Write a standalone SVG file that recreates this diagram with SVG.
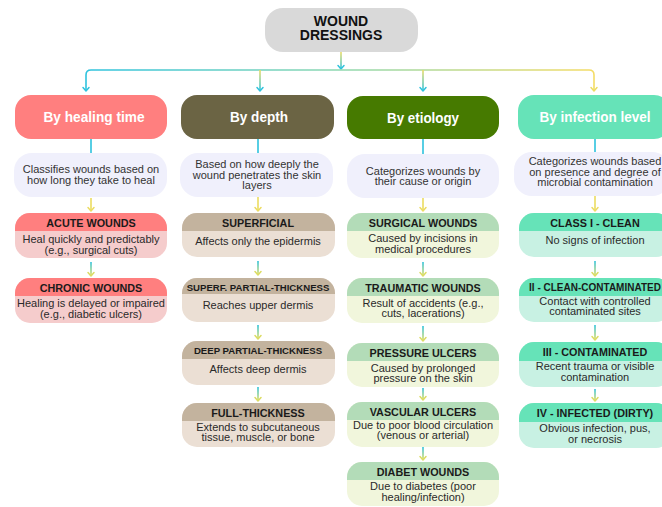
<svg xmlns="http://www.w3.org/2000/svg" width="662" height="507" viewBox="0 0 662 507">
<defs>
<linearGradient id="gcy" x1="0" y1="0" x2="0" y2="1"><stop offset="0" stop-color="#2fc3de"/><stop offset="1" stop-color="#e4de62"/></linearGradient>
<linearGradient id="gyc" x1="0" y1="0" x2="0" y2="1"><stop offset="0" stop-color="#ecdc66"/><stop offset="1" stop-color="#2fc3de"/></linearGradient>
<linearGradient id="gh" gradientUnits="userSpaceOnUse" x1="86" y1="0" x2="594" y2="0"><stop offset="0" stop-color="#2fc3de"/><stop offset="0.5" stop-color="#8fd8b0"/><stop offset="1" stop-color="#f4dc66"/></linearGradient>
<style>
text{font-family:"Liberation Sans",Arial,sans-serif;text-anchor:middle}
.title{font-weight:bold;font-size:14px;fill:#111}
.l2{font-weight:bold;font-size:14.5px;fill:#fff}
.desc{font-size:11px;fill:#333}
.hd{font-weight:bold;font-size:10.8px;fill:#1a1a1a}
.sm{font-size:9.6px}
.md{font-size:10px}
.bd{font-size:11px;fill:#2a2a2a}
.dsc{fill:#f0f0fc}
.ch{fill:none;stroke-width:1.5;stroke-linecap:round;stroke-linejoin:round}
.cy{stroke:#2fc3de}
.ye{stroke:#ecdc62}
.yg{stroke:#dcdc62}
</style>
</defs>

<g id="connectors">
<rect x="340.2" y="52" width="1.6" height="17" fill="url(#gyc)"/>
<polyline class="ch cy" points="338,65.5 341,69 344,65.5"/>
<path d="M86,91 V75 Q86,70 91,70 H589 Q594,70 594,75 V91" fill="none" stroke="url(#gh)" stroke-width="1.6"/>
<rect x="259.2" y="70" width="1.6" height="21" fill="url(#gyc)"/>
<rect x="422.2" y="70" width="1.6" height="21" fill="url(#gyc)"/>
<polyline class="ch cy" points="83,87.5 86,91 89,87.5"/>
<polyline class="ch cy" points="257,87.5 260,91 263,87.5"/>
<polyline class="ch cy" points="420,87.5 423,91 426,87.5"/>
<polyline class="ch ye" points="591,87.5 594,91 597,87.5"/>
<rect x="90.2" y="139" width="1.6" height="15" fill="#2fc3de"/>
<rect x="257.2" y="139" width="1.6" height="15" fill="#2fc3de"/>
<rect x="422.2" y="139" width="1.6" height="15" fill="#2fc3de"/>
<rect x="594.2" y="139" width="1.6" height="14" fill="#2fc3de"/>
<rect x="90.2" y="198" width="1.6" height="13" fill="#ecdc62"/>
<polyline class="ch ye" points="88,207.5 91,211 94,207.5"/>
<rect x="257.2" y="197" width="1.6" height="14" fill="#ecdc62"/>
<polyline class="ch ye" points="255,207.5 258,211 261,207.5"/>
<rect x="422.2" y="198" width="1.6" height="13" fill="#ecdc62"/>
<polyline class="ch ye" points="420,207.5 423,211 426,207.5"/>
<rect x="594.2" y="196" width="1.6" height="15" fill="#ecdc62"/>
<polyline class="ch ye" points="592,207.5 595,211 598,207.5"/>
<rect x="90.2" y="262" width="1.6" height="14" fill="url(#gcy)"/>
<polyline class="ch yg" points="88,272.5 91,276 94,272.5"/>
<rect x="257.2" y="261" width="1.6" height="14" fill="url(#gcy)"/>
<polyline class="ch yg" points="255,271.5 258,275 261,271.5"/>
<rect x="257.2" y="325" width="1.6" height="14" fill="url(#gcy)"/>
<polyline class="ch yg" points="255,335.5 258,339 261,335.5"/>
<rect x="257.2" y="387" width="1.6" height="14" fill="url(#gcy)"/>
<polyline class="ch yg" points="255,397.5 258,401 261,397.5"/>
<rect x="422.2" y="262" width="1.6" height="14" fill="url(#gcy)"/>
<polyline class="ch yg" points="420,272.5 423,276 426,272.5"/>
<rect x="422.2" y="326" width="1.6" height="15" fill="url(#gcy)"/>
<polyline class="ch yg" points="420,337.5 423,341 426,337.5"/>
<rect x="422.2" y="388" width="1.6" height="12" fill="url(#gcy)"/>
<polyline class="ch yg" points="420,396.5 423,400 426,396.5"/>
<rect x="422.2" y="447" width="1.6" height="13" fill="url(#gcy)"/>
<polyline class="ch yg" points="420,456.5 423,460 426,456.5"/>
<rect x="594.2" y="261" width="1.6" height="15" fill="url(#gcy)"/>
<polyline class="ch yg" points="592,272.5 595,276 598,272.5"/>
<rect x="594.2" y="325" width="1.6" height="15" fill="url(#gcy)"/>
<polyline class="ch yg" points="592,336.5 595,340 598,336.5"/>
<rect x="594.2" y="389" width="1.6" height="12" fill="url(#gcy)"/>
<polyline class="ch yg" points="592,397.5 595,401 598,397.5"/>
</g>

<g id="root">
<rect x="265" y="8" width="153" height="44" rx="18" fill="#d9d9d9"/>
<text class="title" x="341" y="25.5">WOUND</text>
<text class="title" x="341" y="40">DRESSINGS</text>
</g>

<g id="by-healing-time">
<rect x="15" y="95" width="152" height="44" rx="16" fill="#ff7f7f"/>
<text class="l2" x="94" y="122" textLength="101" lengthAdjust="spacingAndGlyphs">By healing time</text>
</g>
<g id="by-depth">
<rect x="181" y="95" width="153" height="44" rx="16" fill="#6b6444"/>
<text class="l2" x="259" y="122" textLength="58" lengthAdjust="spacingAndGlyphs">By depth</text>
</g>
<g id="by-etiology">
<rect x="347" y="96" width="152" height="43" rx="16" fill="#467a00"/>
<text class="l2" x="423" y="123" textLength="72" lengthAdjust="spacingAndGlyphs">By etiology</text>
</g>
<g id="by-infection-level">
<rect x="518" y="95" width="152" height="44" rx="16" fill="#66e3b8"/>
<text class="l2" x="595" y="122" textLength="111" lengthAdjust="spacingAndGlyphs">By infection level</text>
</g>

<g id="desc-healing">
<rect class="dsc" x="14" y="153" width="153" height="44" rx="18"/>
<text class="desc" x="91" y="173">Classifies wounds based on</text>
<text class="desc" x="91" y="184">how long they take to heal</text>
</g>
<g id="desc-depth">
<rect class="dsc" x="180" y="153" width="153" height="44" rx="18"/>
<text class="desc" x="257" y="168">Based on how deeply the</text>
<text class="desc" x="257" y="178.5">wound penetrates the skin</text>
<text class="desc" x="257" y="189">layers</text>
</g>
<g id="desc-etiology">
<rect class="dsc" x="347" y="154" width="152" height="44" rx="18"/>
<text class="desc" x="423" y="174.5">Categorizes wounds by</text>
<text class="desc" x="423" y="185">their cause or origin</text>
</g>
<g id="desc-infection">
<rect class="dsc" x="514" y="152" width="156" height="44" rx="18"/>
<text class="desc" x="595" y="165">Categorizes wounds based</text>
<text class="desc" x="595" y="175.5">on presence and degree of</text>
<text class="desc" x="595" y="186">microbial contamination</text>
</g>

<g id="acute-wounds">
<rect x="15" y="213" width="152" height="45" rx="15" fill="#f5cccc"/>
<path d="M15,231 V228 A15,15 0 0 1 30,213 H152 A15,15 0 0 1 167,228 V231 Z" fill="#ff7f7f"/>
<text class="hd" x="91" y="226.5">ACUTE WOUNDS</text>
<text class="bd" x="91" y="243">Heal quickly and predictably</text>
<text class="bd" x="91" y="253.5">(e.g., surgical cuts)</text>
</g>
<g id="chronic-wounds">
<rect x="15" y="278" width="152" height="45" rx="15" fill="#f5cccc"/>
<path d="M15,296 V293 A15,15 0 0 1 30,278 H152 A15,15 0 0 1 167,293 V296 Z" fill="#ff7f7f"/>
<text class="hd" x="91" y="291.5">CHRONIC WOUNDS</text>
<text class="bd" x="91" y="307">Healing is delayed or impaired</text>
<text class="bd" x="91" y="317.5">(e.g., diabetic ulcers)</text>
</g>

<g id="superficial">
<rect x="182" y="213" width="153" height="44" rx="15" fill="#ebdfd4"/>
<path d="M182,231 V228 A15,15 0 0 1 197,213 H320 A15,15 0 0 1 335,228 V231 Z" fill="#c3b39e"/>
<text class="hd" x="258" y="226.5">SUPERFICIAL</text>
<text class="bd" x="258" y="244.5">Affects only the epidermis</text>
</g>
<g id="superf-partial-thickness">
<rect x="182" y="278" width="153" height="44" rx="15" fill="#ebdfd4"/>
<path d="M182,294 V293 A15,15 0 0 1 197,278 H320 A15,15 0 0 1 335,293 V294 Z" fill="#c3b39e"/>
<text class="hd sm" x="258" y="290.5">SUPERF. PARTIAL-THICKNESS</text>
<text class="bd" x="258" y="308.5">Reaches upper dermis</text>
</g>
<g id="deep-partial-thickness">
<rect x="182" y="341" width="153" height="44" rx="15" fill="#ebdfd4"/>
<path d="M182,359 V356 A15,15 0 0 1 197,341 H320 A15,15 0 0 1 335,356 V359 Z" fill="#c3b39e"/>
<text class="hd sm" x="258" y="354">DEEP PARTIAL-THICKNESS</text>
<text class="bd" x="258" y="372.5">Affects deep dermis</text>
</g>
<g id="full-thickness">
<rect x="182" y="403" width="153" height="44" rx="15" fill="#ebdfd4"/>
<path d="M182,421 V418 A15,15 0 0 1 197,403 H320 A15,15 0 0 1 335,418 V421 Z" fill="#c3b39e"/>
<text class="hd" x="258" y="416.5">FULL-THICKNESS</text>
<text class="bd" x="258" y="430.5">Extends to subcutaneous</text>
<text class="bd" x="258" y="441">tissue, muscle, or bone</text>
</g>

<g id="surgical-wounds">
<rect x="347" y="213" width="152" height="45" rx="15" fill="#f1f6dc"/>
<path d="M347,231 V228 A15,15 0 0 1 362,213 H484 A15,15 0 0 1 499,228 V231 Z" fill="#b3dcb8"/>
<text class="hd" x="423" y="226.5">SURGICAL WOUNDS</text>
<text class="bd" x="423" y="242">Caused by incisions in</text>
<text class="bd" x="423" y="252.5">medical procedures</text>
</g>
<g id="traumatic-wounds">
<rect x="347" y="278" width="152" height="45" rx="15" fill="#f1f6dc"/>
<path d="M347,296 V293 A15,15 0 0 1 362,278 H484 A15,15 0 0 1 499,293 V296 Z" fill="#b3dcb8"/>
<text class="hd" x="423" y="291.5">TRAUMATIC WOUNDS</text>
<text class="bd" x="423" y="306.5">Result of accidents (e.g.,</text>
<text class="bd" x="423" y="317">cuts, lacerations)</text>
</g>
<g id="pressure-ulcers">
<rect x="347" y="343" width="152" height="44" rx="15" fill="#f1f6dc"/>
<path d="M347,361 V358 A15,15 0 0 1 362,343 H484 A15,15 0 0 1 499,358 V361 Z" fill="#b3dcb8"/>
<text class="hd" x="423" y="356.5">PRESSURE ULCERS</text>
<text class="bd" x="423" y="371.5">Caused by prolonged</text>
<text class="bd" x="423" y="382">pressure on the skin</text>
</g>
<g id="vascular-ulcers">
<rect x="347" y="402" width="152" height="45" rx="15" fill="#f1f6dc"/>
<path d="M347,420 V417 A15,15 0 0 1 362,402 H484 A15,15 0 0 1 499,417 V420 Z" fill="#b3dcb8"/>
<text class="hd" x="423" y="415.5">VASCULAR ULCERS</text>
<text class="bd" x="423" y="428.5">Due to poor blood circulation</text>
<text class="bd" x="423" y="439">(venous or arterial)</text>
</g>
<g id="diabet-wounds">
<rect x="347" y="462" width="152" height="44" rx="15" fill="#f1f6dc"/>
<path d="M347,480 V477 A15,15 0 0 1 362,462 H484 A15,15 0 0 1 499,477 V480 Z" fill="#b3dcb8"/>
<text class="hd" x="423" y="475.5">DIABET WOUNDS</text>
<text class="bd" x="423" y="490">Due to diabetes (poor</text>
<text class="bd" x="423" y="500.5">healing/infection)</text>
</g>

<g id="class-i-clean">
<rect x="519" y="213" width="152" height="44" rx="15" fill="#c8f1e3"/>
<path d="M519,231 V228 A15,15 0 0 1 534,213 H656 A15,15 0 0 1 671,228 V231 Z" fill="#66e3b8"/>
<text class="hd" x="595" y="226.5">CLASS I - CLEAN</text>
<text class="bd" x="595" y="244">No signs of infection</text>
</g>
<g id="ii-clean-contaminated">
<rect x="519" y="278" width="152" height="44" rx="15" fill="#c8f1e3"/>
<path d="M519,296 V293 A15,15 0 0 1 534,278 H656 A15,15 0 0 1 671,293 V296 Z" fill="#66e3b8"/>
<text class="hd md" x="595" y="290.5">II - CLEAN-CONTAMINATED</text>
<text class="bd" x="595" y="304.5">Contact with controlled</text>
<text class="bd" x="595" y="315">contaminated sites</text>
</g>
<g id="iii-contaminated">
<rect x="519" y="342" width="152" height="45" rx="15" fill="#c8f1e3"/>
<path d="M519,361 V357 A15,15 0 0 1 534,342 H656 A15,15 0 0 1 671,357 V361 Z" fill="#66e3b8"/>
<text class="hd" x="595" y="355.5">III - CONTAMINATED</text>
<text class="bd" x="595" y="370">Recent trauma or visible</text>
<text class="bd" x="595" y="380.5">contamination</text>
</g>
<g id="iv-infected-dirty">
<rect x="519" y="403" width="152" height="45" rx="15" fill="#c8f1e3"/>
<path d="M519,422 V418 A15,15 0 0 1 534,403 H656 A15,15 0 0 1 671,418 V422 Z" fill="#66e3b8"/>
<text class="hd" x="595" y="416.5">IV - INFECTED (DIRTY)</text>
<text class="bd" x="595" y="432">Obvious infection, pus,</text>
<text class="bd" x="595" y="442.5">or necrosis</text>
</g>
</svg>
